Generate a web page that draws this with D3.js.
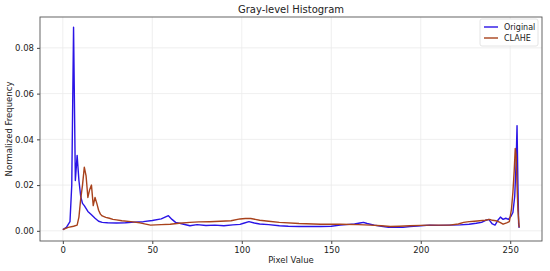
<!DOCTYPE html>
<html>
<head>
<meta charset="utf-8">
<script src="https://cdn.jsdelivr.net/npm/d3@7"></script>
<style>
  body { margin: 0; background: #fff; }
  text { font-family: "DejaVu Sans", sans-serif; fill: #222; }
</style>
</head>
<body>
<div id="chart"></div>
<script>
// data
var origPx = [0,2,4,5,6,7,8,9,10,11,12,14,16,18,20,22,25,30,35,40,45,50,55,59,61,63,67,71,75,80,85,90,95,99,101,104,107,110,115,121,126,132,138,144,150,155,160,163,166,168,170,174,178,182,186,190,194,200,205,210,216,222,227,231,234,236,238,240,241.5,243,244.5,246,247.5,249,250.5,251.5,252.5,253.3,253.8,254.3,254.7,255];
var origFreq = [0.0005,0.0015,0.004,0.02,0.089,0.022,0.033,0.022,0.015,0.012,0.011,0.0085,0.007,0.0055,0.0042,0.0037,0.0035,0.0034,0.0035,0.0038,0.004,0.0045,0.0052,0.0066,0.005,0.0037,0.003,0.0022,0.0027,0.0023,0.0025,0.0022,0.0026,0.0028,0.0033,0.004,0.0034,0.003,0.0027,0.0022,0.002,0.0019,0.0019,0.0019,0.002,0.0025,0.0028,0.003,0.0034,0.0037,0.0032,0.0025,0.002,0.0015,0.0016,0.0015,0.0019,0.0022,0.0025,0.0024,0.0025,0.0026,0.0029,0.0033,0.0037,0.0045,0.005,0.003,0.0025,0.0045,0.006,0.005,0.0055,0.005,0.0065,0.008,0.015,0.03,0.046,0.02,0.003,0.0013];

var clahePx = [0,3,6,8,9,10,11,12,13,14,15,16,17,18,19,20,21,22,24,26,28,30,33,38,43,49,55,60,65,71,76,82,88,94,99,102,105,110,115,121,132,144,155,165,172,178,183,188,194,200,205,210,216,221,224,227,230,233,236,238.5,240,242,244,246,248,249.5,250.7,251.5,252.2,252.8,253.3,253.8,254.3,255];
var claheFreq = [0.0005,0.0015,0.002,0.0025,0.006,0.014,0.02,0.0278,0.024,0.0146,0.018,0.02,0.011,0.0146,0.012,0.009,0.0073,0.0065,0.0059,0.0055,0.005,0.0048,0.0044,0.004,0.0035,0.0025,0.0027,0.0029,0.0033,0.0037,0.0039,0.004,0.0042,0.0044,0.0052,0.0054,0.0054,0.0046,0.0042,0.0037,0.0032,0.0029,0.0029,0.0027,0.0025,0.0022,0.0019,0.002,0.0022,0.0024,0.0025,0.0025,0.0025,0.003,0.0037,0.004,0.0042,0.0044,0.0046,0.005,0.0046,0.0044,0.0038,0.0029,0.0035,0.004,0.0095,0.017,0.026,0.036,0.033,0.02,0.009,0.0015];

var xTicks = [0, 50, 100, 150, 200, 250];
var yTicks = [0, 0.02, 0.04, 0.06, 0.08];
var seriesNames = ["Original", "CLAHE"];
var seriesColors = ["#2a14e6", "#a8421c"];

var svgWidth = 550;
var svgHeight = 271;
var Margin = {top: 17, right: 8, bottom: 30, left: 40};
var width = svgWidth - Margin.left - Margin.right;
var height = svgHeight - Margin.top - Margin.bottom;

var svg = d3.select("#chart")
            .append("svg")
            .attr("width", svgWidth)
            .attr("height", svgHeight);

var chartGroup = svg.append("g")
                    .attr("transform", `translate(${Margin.left}, ${Margin.top})`);

// matplotlib-like 5% margins
var xScale = d3.scaleLinear().domain([-12.75, 267.75]).range([0, width]);
var yScale = d3.scaleLinear().domain([-0.00445, 0.0935]).range([height, 0]);

// gridlines
chartGroup.append("g")
  .selectAll("line.vg").data(xTicks).enter().append("line")
  .attr("x1", d => xScale(d)).attr("x2", d => xScale(d))
  .attr("y1", 0).attr("y2", height)
  .attr("stroke", "#ebebeb").attr("stroke-width", 0.8);
chartGroup.append("g")
  .selectAll("line.hg").data(yTicks).enter().append("line")
  .attr("y1", d => yScale(d)).attr("y2", d => yScale(d))
  .attr("x1", 0).attr("x2", width)
  .attr("stroke", "#ebebeb").attr("stroke-width", 0.8);

// axes
var bottomAxis = d3.axisBottom(xScale).tickValues(xTicks).tickSize(3).tickPadding(3).tickFormat(d3.format("d"));
var leftAxis = d3.axisLeft(yScale).tickValues(yTicks).tickSize(3).tickPadding(3).tickFormat(d3.format(".2f"));

var xAxis = chartGroup.append("g")
  .attr("transform", `translate(0, ${height})`)
  .call(bottomAxis);
var yAxis = chartGroup.append("g").call(leftAxis);

[xAxis, yAxis].forEach(function(ax) {
  ax.select(".domain").remove();
  ax.selectAll(".tick line").attr("stroke", "#444");
  ax.selectAll(".tick text").attr("font-size", "8.5px").attr("fill", "#222");
});

// lines
var series = [
  {name: seriesNames[0], color: seriesColors[0], xs: origPx, ys: origFreq},
  {name: seriesNames[1], color: seriesColors[1], xs: clahePx, ys: claheFreq}
];

var line = d3.line()
  .x(d => xScale(d[0]))
  .y(d => yScale(d[1]));

series.forEach(function(s) {
  chartGroup.append("path")
    .datum(s.xs.map((x, i) => [x, s.ys[i]]))
    .attr("fill", "none")
    .attr("stroke", s.color)
    .attr("stroke-width", 1.4)
    .attr("stroke-linejoin", "round")
    .attr("d", line);
});

// frame
chartGroup.append("rect")
  .attr("width", width).attr("height", height)
  .attr("fill", "none").attr("stroke", "#555").attr("stroke-width", 0.9);

// title and labels
svg.append("text")
  .attr("x", Margin.left + width / 2)
  .attr("y", 13)
  .attr("font-size", "10px")
  .style("text-anchor", "middle")
  .text("Gray-level Histogram");

svg.append("text")
  .attr("x", Margin.left + width / 2)
  .attr("y", 263)
  .attr("font-size", "8.5px")
  .style("text-anchor", "middle")
  .text("Pixel Value");

svg.append("text")
  .attr("transform", "rotate(-90)")
  .attr("x", -(Margin.top + height / 2))
  .attr("y", 12)
  .attr("font-size", "8.5px")
  .style("text-anchor", "middle")
  .text("Normalized Frequency");

// legend
var legend = svg.append("g").attr("transform", "translate(480, 19)");
legend.append("rect")
  .attr("width", 58).attr("height", 27).attr("rx", 2)
  .attr("fill", "#fff").attr("stroke", "#ddd").attr("stroke-width", 0.8);
series.forEach(function(s, i) {
  legend.append("line")
    .attr("x1", 4).attr("x2", 18)
    .attr("y1", 8 + i * 11).attr("y2", 8 + i * 11)
    .attr("stroke", s.color).attr("stroke-width", 1.4);
  legend.append("text")
    .attr("x", 24).attr("y", 11 + i * 11)
    .attr("font-size", "8px")
    .text(s.name);
});
</script>
</body>
</html>
